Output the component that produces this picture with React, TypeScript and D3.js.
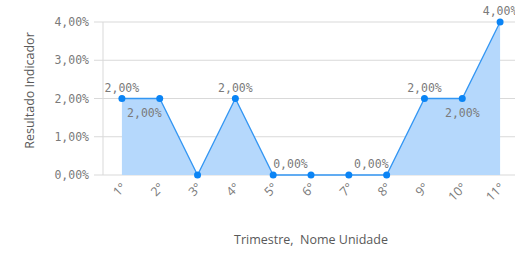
import * as d3 from "d3";

const categories = ["1°", "2°", "3°", "4°", "5°", "6°", "7°", "8°", "9°", "10°", "11°"];
const values = [2, 2, 0, 2, 0, 0, 0, 0, 2, 2, 4];
const yTicks = [0, 1, 2, 3, 4];
// which points carry a value label, and where
const labelSide = ["above", "below", null, "above", "above", null, null, "above", "above", "below", "above"];
const labelAnchor = ["middle", "end", null, "middle", "start", null, null, "end", "middle", "middle", "middle"];

const W = 515;
const H = 258;
const left = 103;
const right = 519;
const top = 22;
const bottom = 175;

const fmt = (v: number) => v.toFixed(2).replace(".", ",") + "%";

export default function App() {
  const x = d3.scalePoint<string>().domain(categories).range([left, right]).padding(0.5);
  const y = d3.scaleLinear().domain([0, 4]).range([bottom, top]);

  const area = d3
    .area<number>()
    .x((_, i) => x(categories[i])!)
    .y0(y(0))
    .y1((d) => y(d));
  const line = d3
    .line<number>()
    .x((_, i) => x(categories[i])!)
    .y((d) => y(d));

  const mono = "'DejaVu Sans Mono', monospace";
  const sans = "'Open Sans', 'Noto Sans', sans-serif";

  return (
    <svg width={W} height={H} style={{ position: "absolute", left: 0, top: 0 }}>
      <rect width={W} height={H} fill="#fff" />
      {yTicks.map((t) => (
        <g key={t}>
          <line x1={94} x2={W} y1={y(t)} y2={y(t)} stroke="#d9d9d9" strokeWidth={1} />
          <text x={89} y={y(t)} dy="0.35em" textAnchor="end" fontFamily={mono} fontSize={11.5} fill="#7a7a7a">
            {fmt(t)}
          </text>
        </g>
      ))}
      <line x1={left} x2={left} y1={top} y2={bottom} stroke="#d9d9d9" />
      <path d={area(values)!} fill="#b5d8fc" />
      <path d={line(values)!} fill="none" stroke="#3396f3" strokeWidth={1.3} />
      {values.map((v, i) => (
        <circle key={i} cx={x(categories[i])} cy={y(v)} r={3.5} fill="#0a84f5" />
      ))}
      {values.map((v, i) => {
        const side = labelSide[i];
        if (!side) return null;
        const anchor = labelAnchor[i] as string;
        const px = x(categories[i])!;
        const dx = anchor === "end" ? 2 : 0;
        return (
          <text
            key={"l" + i}
            x={px + dx}
            y={side === "above" ? y(v) - 7 : y(v) + 18}
            textAnchor={anchor}
            fontFamily={mono}
            fontSize={11.5}
            fill="#7a7a7a"
          >
            {fmt(v)}
          </text>
        );
      })}
      {categories.map((c) => (
        <text
          key={c}
          transform={`translate(${x(c)! + 2},${bottom + 10}) rotate(-45)`}
          textAnchor="end"
          dy="0.35em"
          fontFamily={sans}
          fontSize={12.5}
          fill="#7a7a7a"
        >
          {c}
        </text>
      ))}
      <text x={311} y={244} textAnchor="middle" fontFamily={sans} fontSize={12.5} fill="#595959">
        Trimestre,&#160; Nome Unidade
      </text>
      <text
        transform={`translate(34,${(top + bottom) / 2 - 8}) rotate(-90)`}
        textAnchor="middle"
        fontFamily={sans}
        fontSize={12.5}
        fill="#595959"
      >
        Resultado Indicador
      </text>
    </svg>
  );
}
